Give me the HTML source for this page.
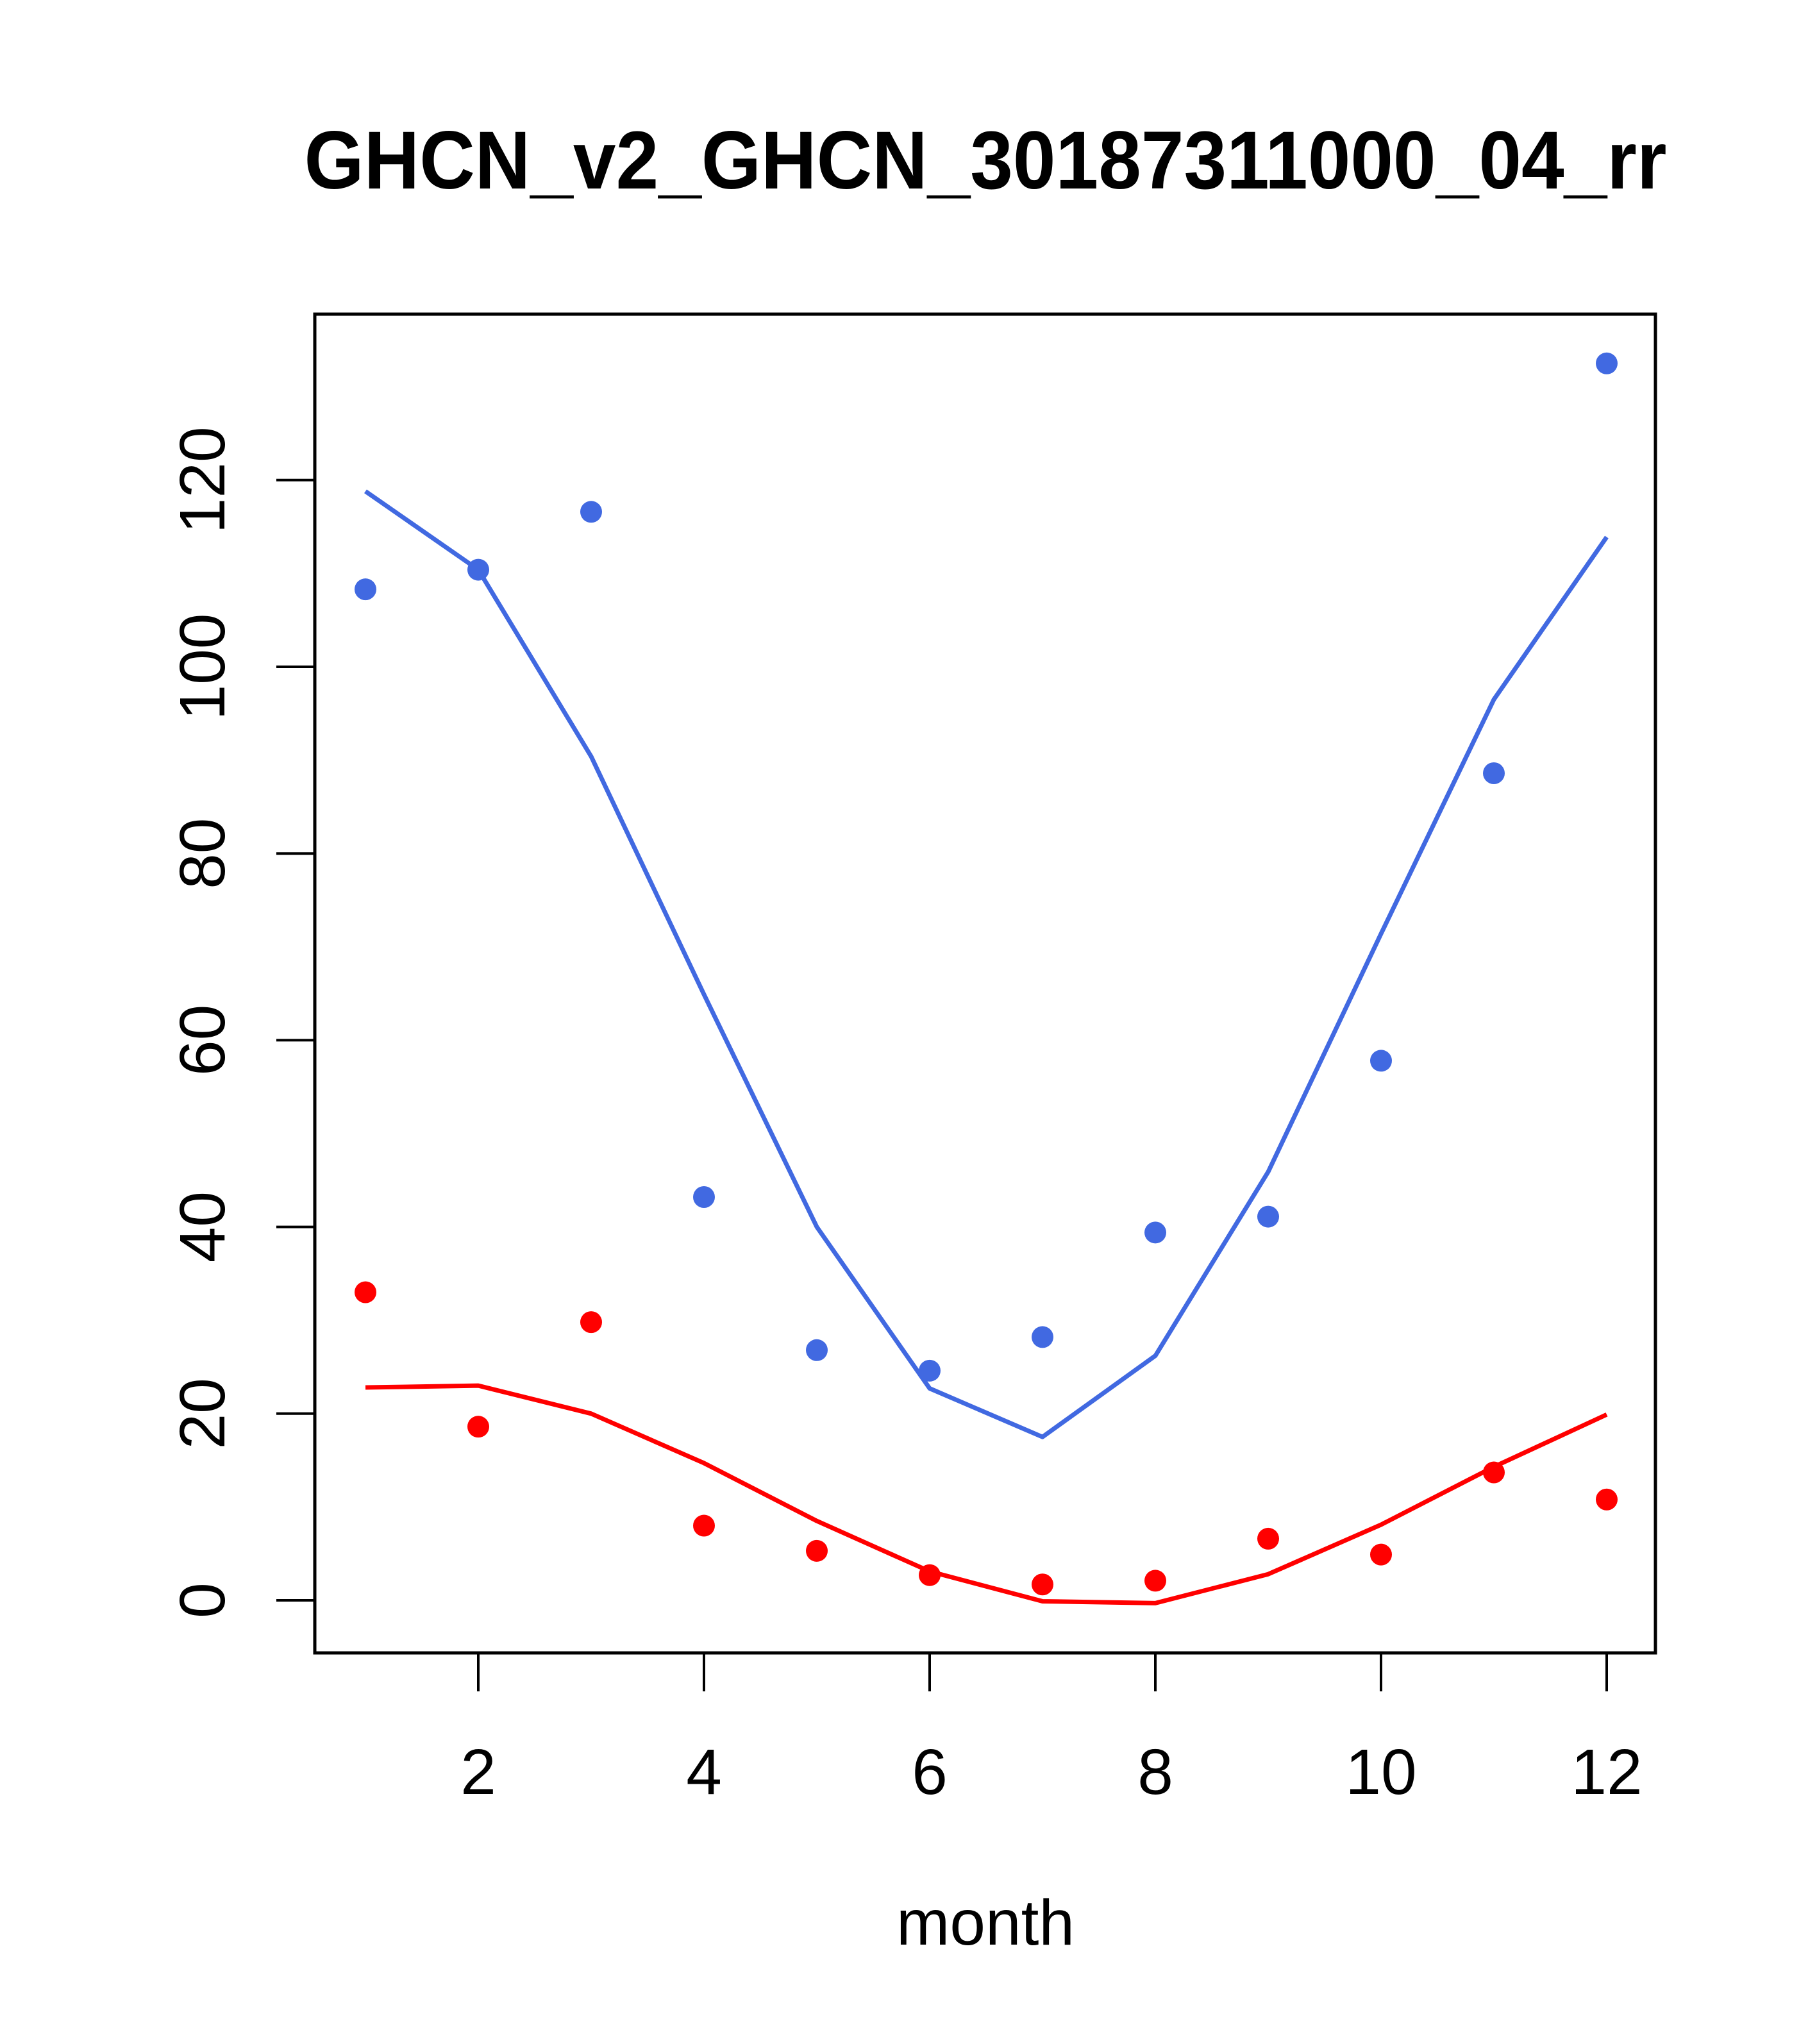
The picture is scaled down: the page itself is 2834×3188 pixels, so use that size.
<!DOCTYPE html>
<html><head><meta charset="utf-8"><style>
html,body{margin:0;padding:0;background:#fff}
svg{display:block}
text{font-family:"Liberation Sans",Arial,sans-serif}
</style></head><body>
<svg id="chart" width="2834" height="3188" viewBox="0 0 2834 3188" xmlns="http://www.w3.org/2000/svg">
<rect width="2834" height="3188" fill="#fff"/>
<text x="1537" y="294" text-anchor="middle" font-size="128" font-weight="bold" textLength="2125" lengthAdjust="spacingAndGlyphs">GHCN_v2_GHCN_30187311000_04_rr</text>
<g id="plot"></g>
<rect x="491" y="490" width="2091" height="2088" fill="none" stroke="#000" stroke-width="5"/>
<text x="1537" y="3033" text-anchor="middle" font-size="100">month</text>
</svg>
<script>
const months = [1,2,3,4,5,6,7,8,9,10,11,12];
const bluePoints = [108.3,110.4,116.6,43.2,26.8,24.6,28.2,39.4,41.1,57.8,88.6,132.5];
const blueLine = [118.8,110.4,90.4,64.9,40.0,22.7,17.5,26.2,45.9,71.4,96.5,113.9];
const redPoints = [33.0,18.6,29.8,8.0,5.3,2.7,1.7,2.1,6.6,4.9,13.7,10.8];
const redLine = [22.8,23.0,20.0,14.7,8.5,3.1,-0.1,-0.3,2.8,8.1,14.3,19.9];
const xTicks = [2,4,6,8,10,12];
const yTicks = [0,20,40,60,80,100,120];

const NS = "http://www.w3.org/2000/svg";
const X = m => 570 + (m - 1) * 176;
const Y = v => 2496 - v * 14.56;
const g = document.getElementById('plot');
function mk(tag, attrs){const e=document.createElementNS(NS,tag);for(const k in attrs)e.setAttribute(k,attrs[k]);return e;}

xTicks.forEach(t=>{
  const l=mk('line',{x1:X(t),x2:X(t),y1:2578,y2:2638,stroke:'#000','stroke-width':4});
  
  
  g.appendChild(l);
  const tx=mk('text',{x:X(t),y:2798,'text-anchor':'middle','font-size':100});
  
  
  tx.textContent=t;g.appendChild(tx);
});
yTicks.forEach(t=>{
  const l=mk('line',{x1:431,x2:491,y1:Y(t),y2:Y(t),stroke:'#000','stroke-width':4});
  
  
  g.appendChild(l);
  const tx=mk('text',{x:0,y:0,'text-anchor':'middle','font-size':100,transform:`translate(350,${Y(t)}) rotate(-90)`});
  
  
  tx.textContent=t;g.appendChild(tx);
});
function series(pts,line,color,name){
  const p=mk('polyline',{points:line.map((v,i)=>X(months[i])+','+Y(v)).join(' '),fill:'none',stroke:color,'stroke-width':7,'stroke-linejoin':'round'});
  
  
  g.appendChild(p);
  pts.forEach((v,i)=>{
    const c=mk('circle',{cx:X(months[i]),cy:Y(v),r:17,fill:color});
    
    
    g.appendChild(c);
  });
}
series(bluePoints,blueLine,'#4169E1','blue');
series(redPoints,redLine,'#FF0000','red');
</script>
</body></html>
